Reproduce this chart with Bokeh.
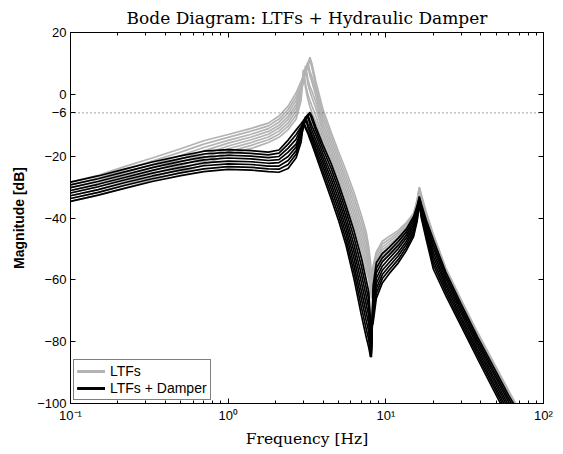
from bokeh.plotting import figure
from bokeh.models import LogAxis, LinearAxis, FixedTicker, Span, Legend, LegendItem
from bokeh.embed import file_html
from bokeh.resources import INLINE

# ---------------- data ----------------
freq_hz = [0.1, 0.15, 0.22, 0.33, 0.5, 0.7, 1.0, 1.4, 1.8, 2.1, 2.4,
           2.7, 2.9, 3.0, 3.1, 3.2, 3.3, 3.4, 3.6,
           4.0, 4.5, 5.0, 5.6, 6.3, 7.0, 7.5, 7.8,
           8.0, 8.1, 8.3, 8.7,
           9.5, 10.5, 12, 13.5, 15, 15.8, 16.3,
           16.8, 18, 20, 24, 30, 38, 48, 60, 70]

# LTFs (grey)
ltf_1 = [-28.4, -26.2, -23.4, -20.6, -17.6, -15.0, -13.0, -11.0, -9.3, -7.0, -3.8,
         0.5, 4.2, 6.0, 8.0, 10.0, 12.0, 9.9, 4.1,
         -5.0, -12.3, -18.4, -24.8, -31.9, -39.2, -44.5, -49.5,
         -54.5, -60.0, -55.5, -51.0,
         -47.5, -46.0, -44.0, -41.5, -38.5, -34.0, -30.0,
         -32.4, -38.0, -45.2, -56.1, -66.3, -76.8, -86.5, -95.8, -102.0]
ltf_2 = [-29.3, -27.1, -24.4, -21.6, -18.7, -16.1, -13.9, -11.9, -10.2, -8.0, -4.9,
         -0.8, 3.0, 5.0, 7.0, 9.0, 11.2, 8.6, 2.5,
         -6.5, -13.7, -19.9, -26.4, -33.7, -41.0, -46.3, -51.0,
         -56.0, -61.5, -57.0, -52.0,
         -48.4, -46.9, -44.7, -42.1, -39.1, -34.5, -30.3,
         -32.8, -38.5, -45.7, -56.6, -66.8, -77.3, -87.0, -96.3, -102.4]
ltf_3 = [-30.2, -28.0, -25.4, -22.7, -19.8, -17.2, -14.9, -12.9, -11.1, -9.0, -6.0,
         -2.0, 2.5, 5.0, 7.5, 10.5, 7.5, 5.5, 1.0,
         -8.0, -15.1, -21.3, -28.0, -35.5, -42.9, -48.1, -52.5,
         -57.5, -63.0, -57.5, -53.0,
         -49.4, -47.7, -45.4, -42.8, -39.6, -35.0, -30.6,
         -33.1, -39.0, -46.3, -57.1, -67.2, -77.7, -87.5, -96.7, -102.9]
ltf_4 = [-31.1, -28.9, -26.4, -23.7, -20.9, -18.3, -15.8, -13.8, -12.0, -10.0, -7.1,
         -3.3, 1.5, 4.2, 6.8, 9.8, 6.0, 4.0, -0.5,
         -9.5, -16.5, -22.8, -29.6, -37.3, -44.7, -49.9, -54.0,
         -59.0, -65.0, -58.0, -54.0,
         -50.3, -48.6, -46.1, -43.4, -40.2, -35.5, -30.9,
         -33.5, -39.5, -46.8, -57.6, -67.7, -78.2, -88.0, -97.2, -103.3]
ltf_5 = [-31.9, -29.9, -27.3, -24.7, -21.9, -19.5, -16.7, -14.7, -12.9, -10.9, -8.1,
         -4.3, 1.5, 4.8, 9.3, 5.0, 2.5, 1.0, -2.5,
         -11.0, -18.0, -24.3, -31.3, -39.0, -46.6, -51.6, -55.5,
         -60.5, -66.0, -58.5, -54.5,
         -51.2, -49.4, -46.9, -44.1, -40.8, -36.0, -31.1,
         -33.9, -40.0, -47.4, -58.0, -68.1, -78.6, -88.5, -97.6, -103.7]
ltf_6 = [-32.8, -30.8, -28.3, -25.7, -23.0, -20.6, -17.6, -15.6, -13.8, -11.9, -9.2,
         -5.5, 0.5, 4.0, 8.7, 3.5, 1.0, -1.0, -4.5,
         -12.5, -19.4, -25.7, -32.9, -40.8, -48.4, -53.4, -57.0,
         -62.0, -65.0, -59.0, -55.5,
         -52.1, -50.3, -47.6, -44.7, -41.4, -36.5, -31.4,
         -34.3, -40.5, -47.9, -58.5, -68.6, -79.1, -89.0, -98.1, -104.1]
ltf_7 = [-33.7, -31.7, -29.3, -26.8, -24.1, -21.7, -18.6, -16.5, -14.7, -12.9, -10.3,
         -6.7, -0.5, 8.0, 3.0, 0.0, -2.0, -3.8, -7.0,
         -14.0, -20.8, -27.2, -34.5, -42.6, -50.3, -55.2, -58.5,
         -63.0, -63.5, -59.5, -56.2,
         -53.1, -51.1, -48.3, -45.4, -41.9, -37.0, -31.7,
         -34.6, -41.0, -48.5, -59.0, -69.0, -79.5, -89.5, -98.5, -104.6]
ltf_8 = [-34.6, -32.6, -30.3, -27.8, -25.2, -22.8, -19.5, -17.5, -15.6, -13.9, -11.4,
         -8.0, -2.0, 7.5, 2.0, -1.5, -4.0, -6.0, -9.0,
         -15.5, -22.2, -28.7, -36.1, -44.4, -52.1, -57.0, -60.0,
         -64.0, -62.0, -60.0, -57.0,
         -54.0, -52.0, -49.0, -46.0, -42.5, -37.5, -32.0,
         -35.0, -41.5, -49.0, -59.5, -69.5, -80.0, -90.0, -99.0, -105.0]

# LTFs + Damper (black)
damper_1 = [-28.4, -26.4, -24.2, -21.9, -19.9, -18.4, -17.9, -18.2, -18.7, -18.0, -14.8,
            -11.5, -9.5, -8.5, -7.5, -6.6, -5.8, -7.1, -10.6,
            -16.4, -22.4, -28.7, -36.1, -44.4, -53.0, -59.9, -64.0,
            -74.0, -82.0, -62.0, -54.5,
            -51.5, -49.5, -46.5, -43.5, -39.5, -36.0, -33.0,
            -35.5, -40.5, -47.0, -57.5, -67.8, -78.3, -88.0, -97.3, -103.0]
damper_2 = [-29.3, -27.3, -25.1, -22.8, -20.8, -19.3, -18.8, -19.1, -19.6, -19.0, -16.1,
            -13.0, -10.5, -9.2, -8.0, -7.0, -6.3, -8.3, -11.8,
            -17.8, -24.0, -30.4, -37.9, -46.6, -55.6, -62.5, -66.6,
            -76.0, -84.0, -64.0, -56.2,
            -52.9, -50.7, -47.6, -44.5, -40.4, -36.7, -33.4,
            -36.1, -41.4, -48.4, -58.6, -68.8, -79.3, -89.1, -98.4, -104.1]
damper_3 = [-30.2, -28.2, -26.0, -23.7, -21.7, -20.3, -19.7, -20.0, -20.5, -20.1, -17.4,
            -14.5, -11.0, -9.3, -7.8, -6.6, -8.5, -10.2, -13.2,
            -19.3, -25.7, -32.1, -39.8, -48.9, -58.3, -65.2, -69.1,
            -78.0, -85.0, -65.5, -57.8,
            -54.2, -51.9, -48.8, -45.5, -41.4, -37.4, -33.7,
            -36.8, -42.3, -49.7, -59.7, -69.8, -80.3, -90.1, -99.5, -105.3]
damper_4 = [-31.1, -29.1, -26.9, -24.6, -22.6, -21.2, -20.6, -20.9, -21.4, -21.1, -18.7,
            -16.0, -12.0, -10.0, -8.3, -7.0, -9.8, -11.6, -14.8,
            -20.7, -27.3, -33.8, -41.6, -51.1, -60.9, -67.8, -71.7,
            -80.0, -83.0, -67.0, -59.5,
            -55.6, -53.1, -49.9, -46.5, -42.3, -38.1, -34.1,
            -37.4, -43.2, -51.1, -60.8, -70.8, -81.3, -91.2, -100.6, -106.4]
damper_5 = [-31.9, -29.9, -27.7, -25.5, -23.6, -22.2, -21.6, -21.8, -22.3, -22.1, -20.1,
            -17.0, -12.0, -9.5, -7.2, -9.5, -11.3, -13.0, -16.2,
            -22.1, -28.9, -35.5, -43.5, -53.3, -63.6, -70.5, -74.3,
            -82.0, -81.0, -68.5, -61.2,
            -56.9, -54.4, -51.1, -47.5, -43.2, -38.9, -34.4,
            -38.1, -44.0, -52.4, -61.8, -71.9, -82.3, -92.2, -101.7, -107.6]
damper_6 = [-32.8, -30.8, -28.6, -26.4, -24.5, -23.1, -22.5, -22.7, -23.2, -23.2, -21.4,
            -18.2, -13.5, -10.8, -8.0, -10.6, -12.3, -14.0, -17.5,
            -23.5, -30.5, -37.2, -45.3, -55.6, -66.2, -73.1, -76.9,
            -83.5, -79.0, -70.0, -62.8,
            -58.3, -55.6, -52.2, -48.5, -44.1, -39.6, -34.8,
            -38.7, -44.9, -53.8, -62.9, -72.9, -83.3, -93.3, -102.8, -108.7]
damper_7 = [-33.7, -31.7, -29.5, -27.3, -25.4, -24.1, -23.4, -23.6, -24.1, -24.2, -22.7,
            -19.3, -14.0, -8.8, -10.5, -12.0, -13.5, -15.2, -18.6,
            -25.0, -32.2, -38.9, -47.2, -57.8, -68.9, -75.8, -79.4,
            -84.5, -77.0, -72.0, -64.4,
            -59.6, -56.8, -53.4, -49.5, -45.1, -40.3, -35.1,
            -39.4, -45.8, -55.1, -64.0, -73.9, -84.3, -94.3, -103.9, -109.9]
damper_8 = [-34.6, -32.6, -30.4, -28.2, -26.3, -25.0, -24.3, -24.5, -25.0, -25.2, -24.0,
            -20.5, -15.5, -9.5, -11.1, -12.6, -14.5, -16.2, -19.8,
            -26.4, -33.8, -40.6, -49.0, -60.0, -71.5, -78.4, -82.0,
            -85.0, -75.0, -74.0, -66.0,
            -61.0, -58.0, -54.5, -50.5, -46.0, -41.0, -35.5,
            -40.0, -46.7, -56.5, -65.1, -74.9, -85.3, -95.4, -105.0, -111.0]

ltf_curves = [ltf_1, ltf_2, ltf_3, ltf_4, ltf_5, ltf_6, ltf_7, ltf_8]
damper_curves = [damper_1, damper_2, damper_3, damper_4,
                 damper_5, damper_6, damper_7, damper_8]

series_labels = ["LTFs", "LTFs + Damper"]
reference_db = -6

y_ticks = [-100, -80, -60, -40, -20, -6, 0, 20]
y_tick_labels = ["\u2212100", "\u221280", "\u221260", "\u221240", "\u221220", "\u22126", "0", "20"]
x_ticks = [0.1, 1, 10, 100]
x_tick_labels = ["10\u207b\u00b9", "10\u2070", "10\u00b9", "10\u00b2"]
x_minor_ticks = [0.2, 0.3, 0.4, 0.5, 0.6, 0.7, 0.8, 0.9,
                 2, 3, 4, 5, 6, 7, 8, 9,
                 20, 30, 40, 50, 60, 70, 80, 90]

# ---------------- figure ----------------
GREY = "#b3b3b3"
SANS = "Liberation Sans"
SERIF = "DejaVu Serif"

p = figure(width=563, height=454, x_axis_type="log",
           x_range=(0.1, 100), y_range=(-100, 20),
           output_backend="svg", toolbar_location=None,
           min_border_left=70, min_border_right=20,
           min_border_top=30, min_border_bottom=51)

p.title.text = "Bode Diagram: LTFs + Hydraulic Damper"
p.title.align = "center"
p.title.text_font = SERIF
p.title.text_font_style = "normal"
p.title.text_font_size = "17px"
p.title.text_color = "black"

p.xgrid.visible = False
p.ygrid.visible = False
p.outline_line_color = "black"
p.outline_line_width = 1
p.background_fill_color = "white"
p.border_fill_color = "white"

ltf_r = [p.line(freq_hz, c, line_color=GREY, line_width=1.7) for c in ltf_curves]
dmp_r = [p.line(freq_hz, c, line_color="black", line_width=1.7) for c in damper_curves]

p.add_layout(Span(location=reference_db, dimension="width",
                  line_color="#444444", line_dash="1 3", line_width=1))

xt = FixedTicker(ticks=x_ticks, minor_ticks=x_minor_ticks)
yt = FixedTicker(ticks=y_ticks, minor_ticks=[])


def style(ax, labels=True):
    ax.axis_line_color = "black"
    ax.major_tick_in = 5
    ax.major_tick_out = 0
    ax.minor_tick_in = 3
    ax.minor_tick_out = 0
    ax.major_tick_line_color = "black"
    ax.minor_tick_line_color = "black"
    ax.major_label_text_color = "black"
    ax.axis_label_text_color = "black"
    if not labels:
        ax.major_label_text_font_size = "1px"
        ax.major_label_text_alpha = 0
        ax.major_label_standoff = 0


xa = p.xaxis[0]
xa.ticker = xt
xa.major_label_overrides = {t: l for t, l in zip(x_ticks, x_tick_labels)}
xa.major_label_text_font = SANS
xa.major_label_text_font_size = "13px"
xa.major_label_standoff = 4
xa.axis_label = "Frequency [Hz]"
xa.axis_label_text_font = SERIF
xa.axis_label_text_font_style = "normal"
xa.axis_label_text_font_size = "15.5px"
xa.axis_label_standoff = 4
style(xa)

ya = p.yaxis[0]
ya.ticker = yt
ya.major_label_overrides = {t: l for t, l in zip(y_ticks, y_tick_labels)}
ya.major_label_text_font = SANS
ya.major_label_text_font_size = "13px"
ya.major_label_standoff = 4
ya.axis_label = "Magnitude [dB]"
ya.axis_label_text_font = SANS
ya.axis_label_text_font_style = "bold"
ya.axis_label_text_font_size = "14px"
ya.axis_label_standoff = 7
style(ya)

top = LogAxis(ticker=xt)
style(top, labels=False)
p.add_layout(top, "above")
right = LinearAxis(ticker=yt)
style(right, labels=False)
p.add_layout(right, "right")

legend = Legend(items=[LegendItem(label=series_labels[0], renderers=ltf_r),
                       LegendItem(label=series_labels[1], renderers=dmp_r)],
                location="bottom_left")
legend.margin = 3
legend.padding = 3
legend.spacing = 1
legend.glyph_width = 28
legend.glyph_height = 16
legend.label_height = 16
legend.label_standoff = 5
legend.label_text_font = SANS
legend.label_text_font_size = "14px"
legend.label_text_color = "black"
legend.border_line_color = "black"
legend.border_line_width = 1
legend.background_fill_color = "white"
legend.background_fill_alpha = 1
p.add_layout(legend)

open("out.html", "w").write(file_html(p, INLINE))
